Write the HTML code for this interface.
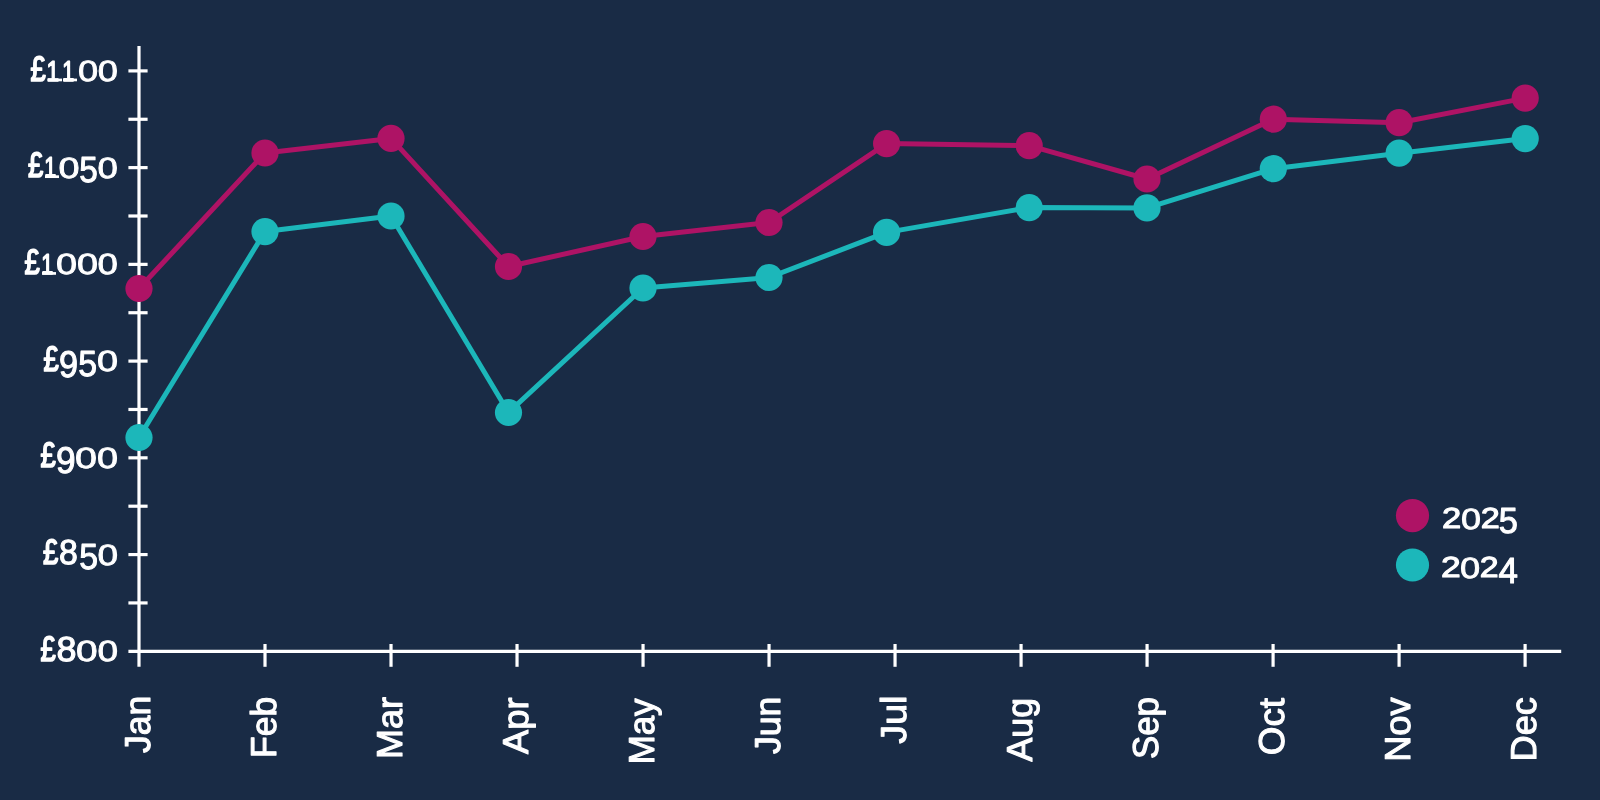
<!DOCTYPE html>
<html lang="en"><head><meta charset="utf-8"><title>Chart</title>
<style>
html,body{margin:0;padding:0;background:#192b45;}
body{width:1600px;height:800px;overflow:hidden;font-family:"Liberation Sans",sans-serif;}
svg{display:block;will-change:transform;}
</style></head><body>
<svg width="1600" height="800" viewBox="0 0 1600 800">
<rect width="1600" height="800" fill="#192b45"/>
<g stroke="#ffffff" stroke-width="3.2" fill="none" stroke-linecap="butt">
<line x1="139.0" y1="46" x2="139.0" y2="666.8"/>
<line x1="128.4" y1="651.3" x2="1561.2" y2="651.3"/>
<line x1="128.4" y1="70.90" x2="147.6" y2="70.90"/>
<line x1="128.4" y1="119.27" x2="147.6" y2="119.27"/>
<line x1="128.4" y1="167.63" x2="147.6" y2="167.63"/>
<line x1="128.4" y1="216.00" x2="147.6" y2="216.00"/>
<line x1="128.4" y1="264.37" x2="147.6" y2="264.37"/>
<line x1="128.4" y1="312.73" x2="147.6" y2="312.73"/>
<line x1="128.4" y1="361.10" x2="147.6" y2="361.10"/>
<line x1="128.4" y1="409.47" x2="147.6" y2="409.47"/>
<line x1="128.4" y1="457.83" x2="147.6" y2="457.83"/>
<line x1="128.4" y1="506.20" x2="147.6" y2="506.20"/>
<line x1="128.4" y1="554.57" x2="147.6" y2="554.57"/>
<line x1="128.4" y1="602.93" x2="147.6" y2="602.93"/>
<line x1="265.01" y1="644" x2="265.01" y2="666.8"/>
<line x1="391.02" y1="644" x2="391.02" y2="666.8"/>
<line x1="517.03" y1="644" x2="517.03" y2="666.8"/>
<line x1="643.04" y1="644" x2="643.04" y2="666.8"/>
<line x1="769.05" y1="644" x2="769.05" y2="666.8"/>
<line x1="895.05" y1="644" x2="895.05" y2="666.8"/>
<line x1="1021.06" y1="644" x2="1021.06" y2="666.8"/>
<line x1="1147.07" y1="644" x2="1147.07" y2="666.8"/>
<line x1="1273.08" y1="644" x2="1273.08" y2="666.8"/>
<line x1="1399.09" y1="644" x2="1399.09" y2="666.8"/>
<line x1="1525.10" y1="644" x2="1525.10" y2="666.8"/>
</g>
<polyline points="139.0,437.5 265.0,231.6 391.0,216.0 508.5,412.5 643.0,288.0 769.0,277.5 886.6,232.4 1029.2,207.6 1147.0,207.9 1273.3,168.7 1399.1,153.2 1525.2,138.6" fill="none" stroke="#1cb7ba" stroke-width="5" stroke-linejoin="round"/>
<circle cx="139.0" cy="437.5" r="13.6" fill="#1cb7ba"/>
<circle cx="265.0" cy="231.6" r="13.6" fill="#1cb7ba"/>
<circle cx="391.0" cy="216.0" r="13.6" fill="#1cb7ba"/>
<circle cx="508.5" cy="412.5" r="13.6" fill="#1cb7ba"/>
<circle cx="643.0" cy="288.0" r="13.6" fill="#1cb7ba"/>
<circle cx="769.0" cy="277.5" r="13.6" fill="#1cb7ba"/>
<circle cx="886.6" cy="232.4" r="13.6" fill="#1cb7ba"/>
<circle cx="1029.2" cy="207.6" r="13.6" fill="#1cb7ba"/>
<circle cx="1147.0" cy="207.9" r="13.6" fill="#1cb7ba"/>
<circle cx="1273.3" cy="168.7" r="13.6" fill="#1cb7ba"/>
<circle cx="1399.1" cy="153.2" r="13.6" fill="#1cb7ba"/>
<circle cx="1525.2" cy="138.6" r="13.6" fill="#1cb7ba"/>
<polyline points="139.0,288.5 265.0,153.0 391.0,138.4 508.5,266.5 643.0,236.5 769.0,222.5 886.6,143.6 1029.2,145.6 1147.0,179.0 1273.3,119.2 1399.1,122.7 1525.2,98.1" fill="none" stroke="#ae1365" stroke-width="5" stroke-linejoin="round"/>
<circle cx="139.0" cy="288.5" r="13.6" fill="#ae1365"/>
<circle cx="265.0" cy="153.0" r="13.6" fill="#ae1365"/>
<circle cx="391.0" cy="138.4" r="13.6" fill="#ae1365"/>
<circle cx="508.5" cy="266.5" r="13.6" fill="#ae1365"/>
<circle cx="643.0" cy="236.5" r="13.6" fill="#ae1365"/>
<circle cx="769.0" cy="222.5" r="13.6" fill="#ae1365"/>
<circle cx="886.6" cy="143.6" r="13.6" fill="#ae1365"/>
<circle cx="1029.2" cy="145.6" r="13.6" fill="#ae1365"/>
<circle cx="1147.0" cy="179.0" r="13.6" fill="#ae1365"/>
<circle cx="1273.3" cy="119.2" r="13.6" fill="#ae1365"/>
<circle cx="1399.1" cy="122.7" r="13.6" fill="#ae1365"/>
<circle cx="1525.2" cy="98.1" r="13.6" fill="#ae1365"/>
<circle cx="1412.5" cy="515.6" r="16.6" fill="#ae1365"/>
<circle cx="1412.5" cy="565.0" r="16.6" fill="#1cb7ba"/>
<g fill="#ffffff" stroke="#ffffff" stroke-linejoin="round" text-rendering="geometricPrecision" font-family="'Liberation Sans', sans-serif">
<g aria-label="£1100">
<text transform="matrix(0.2740 0 0 0.3539 30.48 80.55)" font-size="100" stroke-width="4.78">£</text>
<text transform="matrix(0.2274 0 0 0.2863 46.62 80.65)" font-size="100" stroke-width="5.06">1</text>
<rect x="47.50" y="78.60" width="14.50" height="2.7" stroke="none"/>
<text transform="matrix(0.2158 0 0 0.2863 62.21 80.65)" font-size="100" stroke-width="5.18">1</text>
<rect x="63.00" y="78.60" width="14.00" height="2.7" stroke="none"/>
<text transform="matrix(0.3619 0 0 0.2924 78.04 80.86)" font-size="100" stroke-width="2.75">0</text>
<text transform="matrix(0.3619 0 0 0.2924 97.84 80.86)" font-size="100" stroke-width="2.75">0</text>
</g>
<g aria-label="£1050">
<text transform="matrix(0.2740 0 0 0.3539 27.98 177.28)" font-size="100" stroke-width="4.78">£</text>
<text transform="matrix(0.2158 0 0 0.2863 44.21 177.38)" font-size="100" stroke-width="5.18">1</text>
<rect x="45.00" y="175.33" width="14.00" height="2.7" stroke="none"/>
<text transform="matrix(0.3787 0 0 0.2924 58.57 177.59)" font-size="100" stroke-width="2.68">0</text>
<text transform="matrix(0.3333 0 0 0.3625 79.37 182.47)" font-size="100" stroke-width="2.87">5</text>
<text transform="matrix(0.3661 0 0 0.2924 97.62 177.59)" font-size="100" stroke-width="2.73">0</text>
</g>
<g aria-label="£1000">
<text transform="matrix(0.2740 0 0 0.3539 24.48 274.02)" font-size="100" stroke-width="4.78">£</text>
<text transform="matrix(0.2158 0 0 0.2863 41.21 274.12)" font-size="100" stroke-width="5.18">1</text>
<rect x="42.00" y="272.07" width="14.00" height="2.7" stroke="none"/>
<text transform="matrix(0.3787 0 0 0.2924 55.97 274.32)" font-size="100" stroke-width="2.68">0</text>
<text transform="matrix(0.3787 0 0 0.2924 76.97 274.32)" font-size="100" stroke-width="2.68">0</text>
<text transform="matrix(0.3661 0 0 0.2924 97.62 274.32)" font-size="100" stroke-width="2.73">0</text>
</g>
<g aria-label="£950">
<text transform="matrix(0.2740 0 0 0.3539 43.48 370.75)" font-size="100" stroke-width="4.78">£</text>
<text transform="matrix(0.3420 0 0 0.3715 59.09 376.63)" font-size="100" stroke-width="2.80">9</text>
<text transform="matrix(0.3376 0 0 0.3625 78.15 375.94)" font-size="100" stroke-width="2.86">5</text>
<text transform="matrix(0.3787 0 0 0.2924 96.97 371.06)" font-size="100" stroke-width="2.68">0</text>
</g>
<g aria-label="£900">
<text transform="matrix(0.2740 0 0 0.3539 40.48 467.48)" font-size="100" stroke-width="4.78">£</text>
<text transform="matrix(0.3528 0 0 0.3715 56.04 473.36)" font-size="100" stroke-width="2.76">9</text>
<text transform="matrix(0.3954 0 0 0.2924 75.11 467.79)" font-size="100" stroke-width="2.62">0</text>
<text transform="matrix(0.3787 0 0 0.2924 96.97 467.79)" font-size="100" stroke-width="2.68">0</text>
</g>
<g aria-label="£850">
<text transform="matrix(0.2740 0 0 0.3539 42.98 564.22)" font-size="100" stroke-width="4.78">£</text>
<text transform="matrix(0.3383 0 0 0.3475 59.10 564.37)" font-size="100" stroke-width="3.21">8</text>
<text transform="matrix(0.3376 0 0 0.3625 79.15 569.40)" font-size="100" stroke-width="2.86">5</text>
<text transform="matrix(0.3703 0 0 0.2924 97.41 564.52)" font-size="100" stroke-width="2.72">0</text>
</g>
<g aria-label="£800">
<text transform="matrix(0.2740 0 0 0.3539 40.48 660.95)" font-size="100" stroke-width="4.78">£</text>
<text transform="matrix(0.3596 0 0 0.3475 56.50 661.10)" font-size="100" stroke-width="3.11">8</text>
<text transform="matrix(0.3891 0 0 0.2924 75.93 661.26)" font-size="100" stroke-width="2.64">0</text>
<text transform="matrix(0.3703 0 0 0.2924 97.41 661.26)" font-size="100" stroke-width="2.72">0</text>
</g>
<g aria-label="2025">
<text transform="matrix(0.3454 0 0 0.2887 1441.95 528.42)" font-size="100" stroke-width="3.63">2</text>
<text transform="matrix(0.3598 0 0 0.2924 1460.95 528.56)" font-size="100" stroke-width="2.76">0</text>
<text transform="matrix(0.3432 0 0 0.2887 1480.76 528.42)" font-size="100" stroke-width="3.64">2</text>
<text transform="matrix(0.3439 0 0 0.3625 1498.72 533.44)" font-size="100" stroke-width="2.83">5</text>
</g>
<g aria-label="2024">
<text transform="matrix(0.3542 0 0 0.2887 1440.90 577.42)" font-size="100" stroke-width="3.58">2</text>
<text transform="matrix(0.3619 0 0 0.2924 1460.04 577.56)" font-size="100" stroke-width="2.75">0</text>
<text transform="matrix(0.3388 0 0 0.2887 1479.78 577.42)" font-size="100" stroke-width="3.67">2</text>
<text transform="matrix(0.3492 0 0 0.3619 1498.40 582.70)" font-size="100" stroke-width="2.81">4</text>
</g>
<text transform="matrix(0 -0.3547 0.3590 0 149.95 753.02)" font-size="100" stroke-width="3.08">Jan</text>
<text transform="matrix(0 -0.3558 0.3590 0 275.95 757.97)" font-size="100" stroke-width="3.08">Feb</text>
<text transform="matrix(0 -0.3604 0.3590 0 401.95 759.01)" font-size="100" stroke-width="3.06">Mar</text>
<text transform="matrix(0 -0.3624 0.3590 0 527.95 753.92)" font-size="100" stroke-width="3.05">Apr</text>
<text transform="matrix(0 -0.3485 0.3590 0 653.95 764.31)" font-size="100" stroke-width="3.11">May</text>
<text transform="matrix(0 -0.3560 0.3590 0 779.95 754.02)" font-size="100" stroke-width="3.08">Jun</text>
<text transform="matrix(0 -0.3757 0.3590 0 905.95 743.65)" font-size="100" stroke-width="2.99">Jul</text>
<text transform="matrix(0 -0.3579 0.3590 0 1031.95 761.52)" font-size="100" stroke-width="3.07">Aug</text>
<text transform="matrix(0 -0.3483 0.3590 0 1157.95 759.05)" font-size="100" stroke-width="3.11">Sep</text>
<text transform="matrix(0 -0.3682 0.3590 0 1283.95 755.18)" font-size="100" stroke-width="3.03">Oct</text>
<text transform="matrix(0 -0.3623 0.3590 0 1409.95 761.82)" font-size="100" stroke-width="3.05">Nov</text>
<text transform="matrix(0 -0.3611 0.3590 0 1535.95 761.41)" font-size="100" stroke-width="3.06">Dec</text>
</g>
</svg>
</body></html>
